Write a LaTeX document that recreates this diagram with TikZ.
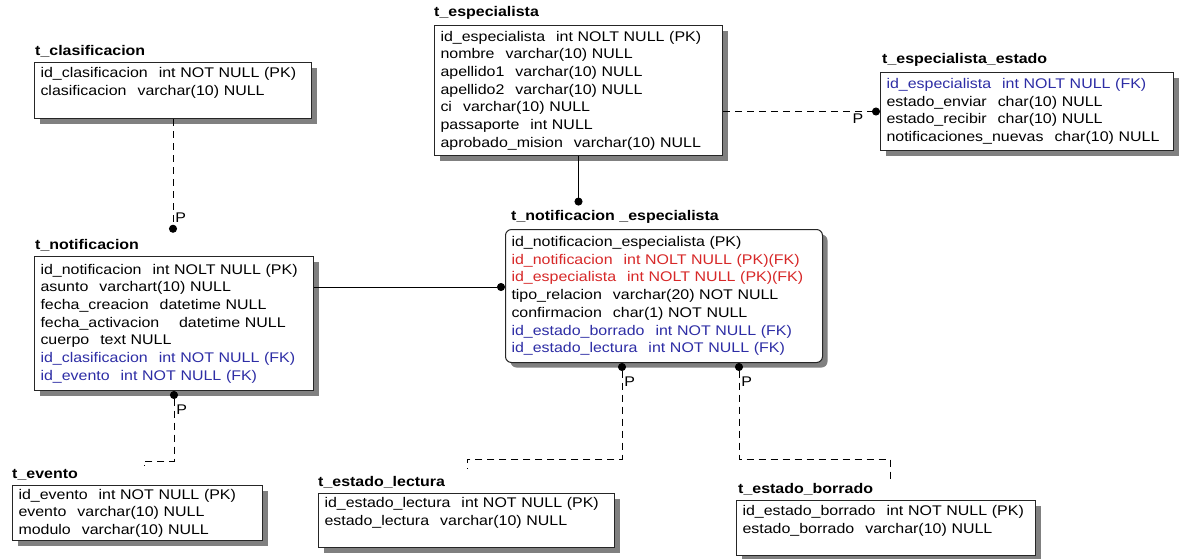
\documentclass[tikz,border=0pt]{standalone}
\usepackage{fontspec}
\setmainfont{Liberation Sans}[FakeStretch=1.14]
\usepackage{tikz}
\usetikzlibrary{positioning, arrows.meta, shadows, calc}
\definecolor{fkblue}{RGB}{45, 45, 165}
\definecolor{pkred}{RGB}{215, 40, 40}
\newcommand{\colgap}{\hspace{11pt}}

\begin{document}
\begin{tikzpicture}[x=1pt, y=-1pt,
  tabla/.style={draw=black!85, line width=1pt, fill=white, anchor=north west, align=left,
                inner xsep=6pt, inner ysep=3.5pt, font=\fontsize{14}{17.7}\selectfont,
                drop shadow={shadow xshift=5pt, shadow yshift=-5pt, fill=black!50, opacity=1}},
  titulo/.style={font=\fontsize{14}{17}\selectfont\bfseries, inner sep=0pt},
  idrel/.style={line width=0.9pt},
  nidrel/.style={line width=0.9pt, dash pattern=on 7pt off 5pt},
  fin/.style={-{Circle[length=8pt, width=8pt]}},
  ini/.style={{Circle[length=8pt, width=8pt]}-},
  etiq/.style={font=\fontsize{14}{17}\selectfont, inner sep=2pt}]
  \useasboundingbox (0,0) rectangle (1181,558);

  % t_clasificacion
  \node[tabla, text width=265pt, minimum height=56pt] (clasif) at (34,62) {
    id\_clasificacion\colgap int NOT NULL (PK)\\
    clasificacion\colgap varchar(10) NULL\\ ~
  };
  \node[titulo, above right=5pt and 1pt of clasif.north west] (clasif-t) {t\_clasificacion};

  % t_especialista
  \node[tabla, text width=276pt, minimum height=130pt] (esp) at (434,25) {
    id\_especialista\colgap int NOLT NULL (PK)\\
    nombre\colgap varchar(10) NULL\\
    apellido1\colgap varchar(10) NULL\\
    apellido2\colgap varchar(10) NULL\\
    ci\colgap varchar(10) NULL\\
    passaporte\colgap int NULL\\
    aprobado\_mision\colgap varchar(10) NULL
  };
  \node[titulo, above right=5pt and 0pt of esp.north west] (esp-t) {t\_especialista};

  % t_especialista_estado
  \node[tabla, text width=281pt, minimum height=78pt] (estado) at (880,72) {
    \textcolor{fkblue}{id\_especialista\colgap int NOLT NULL (FK)}\\
    estado\_enviar\colgap char(10) NULL\\
    estado\_recibir\colgap char(10) NULL\\
    notificaciones\_nuevas\colgap char(10) NULL
  };
  \node[titulo, above right=5pt and 2pt of estado.north west] (estado-t) {t\_especialista\_estado};

  % t_notificacion
  \node[tabla, text width=267pt, minimum height=134pt] (notif) at (34,256) {
    id\_notificacion\colgap int NOLT NULL (PK)\\
    asunto\colgap varchart(10) NULL\\
    fecha\_creacion\colgap datetime NULL\\
    fecha\_activacion\colgap\hspace{4pt} datetime NULL\\
    cuerpo\colgap text NULL\\
    \textcolor{fkblue}{id\_clasificacion\colgap int NOT NULL (FK)}\\
    \textcolor{fkblue}{id\_evento\colgap int NOT NULL (FK)}
  };
  \node[titulo, above right=5pt and 1pt of notif.north west] (notif-t) {t\_notificacion};

  % t_notificacion_especialista
  \node[tabla, rounded corners=6pt, text width=305pt, minimum height=133pt] (notifesp) at (505,229) {
    id\_notificacion\_especialista (PK)\\
    \textcolor{pkred}{id\_notificacion\colgap int NOLT NULL (PK)(FK)}\\
    \textcolor{pkred}{id\_especialista\colgap int NOLT NULL (PK)(FK)}\\
    tipo\_relacion\colgap varchar(20) NOT NULL\\
    confirmacion\colgap char(1) NOT NULL\\
    \textcolor{fkblue}{id\_estado\_borrado\colgap int NOT NULL (FK)}\\
    \textcolor{fkblue}{id\_estado\_lectura\colgap int NOT NULL (FK)}
  };
  \node[titulo, above right=5pt and 6pt of notifesp.north west] (notifesp-t) {t\_notificacion \_especialista};

  % t_evento
  \node[tabla, text width=238pt, minimum height=55pt] (evento) at (12,485) {
    id\_evento\colgap int NOT NULL (PK)\\
    evento\colgap varchar(10) NULL\\
    modulo\colgap varchar(10) NULL
  };
  \node[titulo, above right=5pt and 0pt of evento.north west] (evento-t) {t\_evento};

  % t_estado_lectura
  \node[tabla, text width=284pt, minimum height=54pt] (lectura) at (318,493) {
    id\_estado\_lectura\colgap int NOT NULL (PK)\\
    estado\_lectura\colgap varchar(10) NULL\\ ~
  };
  \node[titulo, above right=5pt and 0pt of lectura.north west] (lectura-t) {t\_estado\_lectura};

  % t_estado_borrado
  \node[tabla, text width=287pt, minimum height=55pt] (borrado) at (736,500) {
    id\_estado\_borrado\colgap int NOT NULL (PK)\\
    estado\_borrado\colgap varchar(10) NULL\\ ~
  };
  \node[titulo, above right=5pt and 2pt of borrado.north west] (borrado-t) {t\_estado\_borrado};

  % relaciones
  \draw[idrel, fin] (esp.south) -- ($(esp.south |- notifesp-t.north)+(0,-5)$);
  \draw[nidrel, fin] (esp.east |- estado.west) -- node[pos=0.86, below, etiq] {P} (estado.west);
  \draw[nidrel, fin] (clasif.south) -- node[pos=0.87, right, etiq] {P}
    ($(clasif.south |- notif-t.north)+(0,-6)$);
  \path ([yshift=-31pt]notif.north east) coordinate (r1);
  \draw[idrel, fin] (r1) -- (r1 -| notifesp.west);
  \draw[nidrel, ini] (notif.south) -- node[pos=0.26, right, etiq] {P} ++(0,70)
    -| ($(evento.north)+(7,-19)$);
  \draw[nidrel, ini] ([xshift=-42pt]notifesp.south) -- node[pos=0.19, right, etiq] {P} ++(0,96)
    -| ($(lectura.north)+(1,-24)$);
  \draw[nidrel, ini] ([xshift=75pt]notifesp.south) -- node[pos=0.19, right, etiq] {P} ++(0,96)
    -| ($(borrado.north)+(4,-21)$);
\end{tikzpicture}
\end{document}
